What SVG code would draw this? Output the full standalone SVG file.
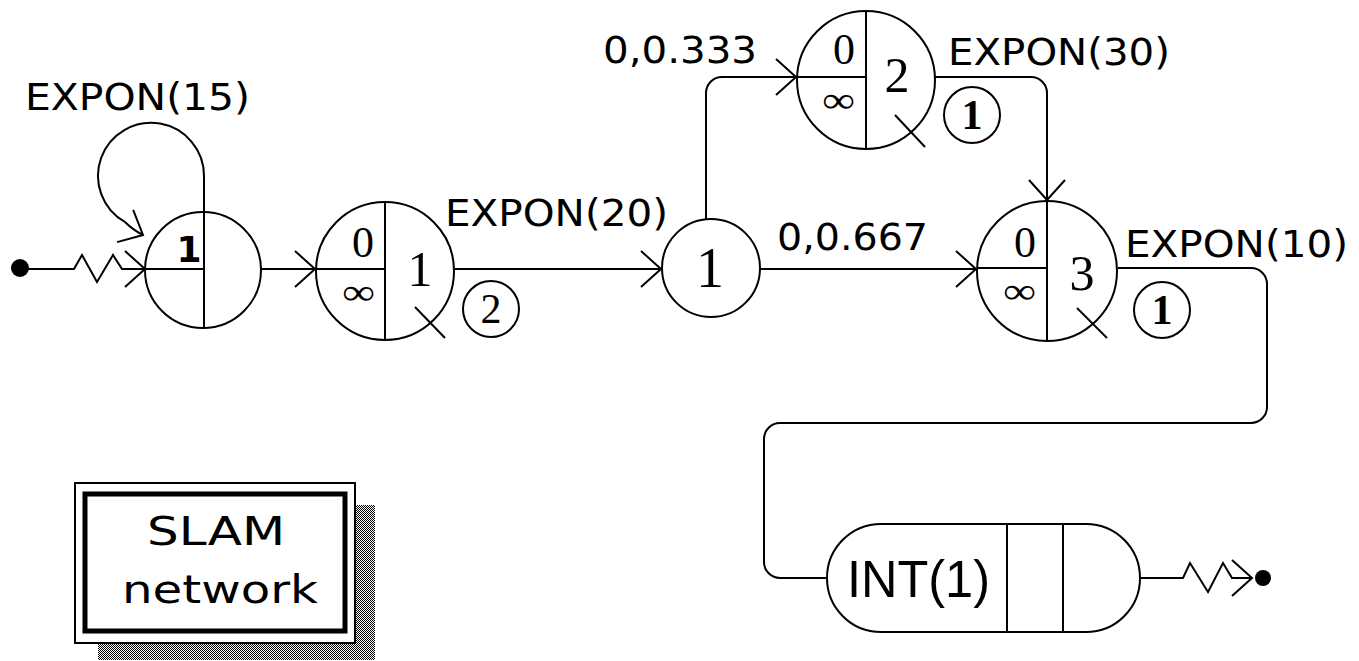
<svg xmlns="http://www.w3.org/2000/svg" width="1359" height="661" viewBox="0 0 1359 661">
<style>
.ln{fill:none;stroke:#000;stroke-width:2}
.nd{fill:#fff;stroke:#000;stroke-width:2}
.lbl{font-family:"DejaVu Sans",Verdana,sans-serif;font-size:37px;fill:#000}
.ser{font-family:"Liberation Serif","Times New Roman",serif;fill:#000;text-anchor:middle}
.inf{font-family:"Liberation Serif","Times New Roman",serif;font-size:36px;fill:#000}
.cnt{font-family:"Liberation Serif","Times New Roman",serif;font-size:42px;font-weight:bold;fill:#000;text-anchor:middle}
.reg{font-weight:normal}
</style>
<defs>
<marker id="arr" markerUnits="userSpaceOnUse" markerWidth="50" markerHeight="50" viewBox="-25 -25 50 50" refX="0" refY="0" orient="auto" overflow="visible">
<path d="M-20,-18 L0,0 L-20,18" fill="none" stroke="#000" stroke-width="2"/>
</marker>
<pattern id="dither" width="2" height="2" patternUnits="userSpaceOnUse">
<rect width="2" height="2" fill="#fff"/>
<rect x="0" y="0" width="1" height="1" fill="#000"/>
<rect x="1" y="1" width="1" height="1" fill="#000"/>
</pattern>
</defs>

<g id="connectors">
<path class="ln" d="M20,269 L74,269 L82,255 L97,282 L113,255 L122,269 L145,269" marker-end="url(#arr)"/>
<path class="ln" d="M204,212 L204,176 A53,53 0 1 0 125,222 Q133,230 143,235" marker-end="url(#arr)"/>
<path class="ln" d="M261,269 L315,269" marker-end="url(#arr)"/>
<path class="ln" d="M455,269 L661,269" marker-end="url(#arr)"/>
<path class="ln" d="M706,219 L706,93 A16,16 0 0 1 722,77 L796,77" marker-end="url(#arr)"/>
<path class="ln" d="M760,269 L976,269" marker-end="url(#arr)"/>
<path class="ln" d="M935,77 L1031,77 A16,16 0 0 1 1047,93 L1047,200" marker-end="url(#arr)"/>
<path class="ln" d="M1118,268 L1251,268 A16,16 0 0 1 1267,284 L1267,407 A16,16 0 0 1 1251,423 L780,423 A16,16 0 0 0 764,439 L764,562 A16,16 0 0 0 780,578 L827,578"/>
<path class="ln" d="M1140,578 L1183,578 L1190,563 L1208,592 L1223,563 L1232,578 L1252,578" marker-end="url(#arr)"/>
</g>

<g id="start">
<circle cx="20" cy="268" r="9" fill="#000"/>
</g>

<g id="create">
<circle class="nd" cx="203" cy="270" r="58"/>
<line class="ln" x1="204" y1="212" x2="204" y2="328"/>
<line class="ln" x1="145" y1="269" x2="204" y2="269"/>
<text x="189" y="262" font-family="DejaVu Sans,Verdana,sans-serif" font-size="36" font-weight="bold" text-anchor="middle">1</text>
<text class="lbl" x="25" y="110" textLength="225" lengthAdjust="spacingAndGlyphs">EXPON(15)</text>
</g>

<g id="queue1">
<circle class="nd" cx="385" cy="271" r="69"/>
<line class="ln" x1="385" y1="202" x2="385" y2="340"/>
<line class="ln" x1="316" y1="269" x2="385" y2="269"/>
<text class="ser" x="363" y="257" font-size="44">0</text>
<text class="inf" x="342" y="304" textLength="33" lengthAdjust="spacingAndGlyphs">∞</text>
<text class="ser" x="420" y="286" font-size="50">1</text>
<line class="ln" x1="415" y1="307" x2="445" y2="338"/>
<circle class="nd" cx="491" cy="309" r="28"/>
<text class="cnt reg" x="491" y="323">2</text>
<text class="lbl" x="445" y="226" textLength="223" lengthAdjust="spacingAndGlyphs">EXPON(20)</text>
</g>

<g id="goon">
<circle class="nd" cx="711" cy="268" r="49"/>
<text class="ser" x="710" y="287" font-size="56">1</text>
<text class="lbl" x="603" y="63" textLength="154" lengthAdjust="spacingAndGlyphs">0,0.333</text>
<text class="lbl" x="777" y="250" textLength="151" lengthAdjust="spacingAndGlyphs">0,0.667</text>
</g>

<g id="queue2">
<circle class="nd" cx="866" cy="80" r="69"/>
<line class="ln" x1="866" y1="11" x2="866" y2="149"/>
<line class="ln" x1="797" y1="77" x2="866" y2="77"/>
<text class="ser" x="844" y="64" font-size="44">0</text>
<text class="inf" x="822" y="112" textLength="33" lengthAdjust="spacingAndGlyphs">∞</text>
<text class="ser" x="897" y="92" font-size="50">2</text>
<line class="ln" x1="895" y1="115" x2="925" y2="147"/>
<circle class="nd" cx="972" cy="115" r="28"/>
<text class="cnt" x="972" y="129">1</text>
<text class="lbl" x="948" y="65" textLength="222" lengthAdjust="spacingAndGlyphs">EXPON(30)</text>
</g>

<g id="queue3">
<circle class="nd" cx="1047" cy="271" r="70"/>
<line class="ln" x1="1047" y1="201" x2="1047" y2="341"/>
<line class="ln" x1="977" y1="268" x2="1047" y2="268"/>
<text class="ser" x="1025" y="257" font-size="44">0</text>
<text class="inf" x="1003" y="303" textLength="33" lengthAdjust="spacingAndGlyphs">∞</text>
<text class="ser" x="1082" y="290" font-size="50">3</text>
<line class="ln" x1="1077" y1="308" x2="1107" y2="338"/>
<circle class="nd" cx="1162" cy="310" r="28"/>
<text class="cnt" x="1162" y="324">1</text>
<text class="lbl" x="1125" y="257" textLength="223" lengthAdjust="spacingAndGlyphs">EXPON(10)</text>
</g>

<g id="activity">
<path class="nd" d="M881,524 L1086,524 A54,54 0 0 1 1086,632 L881,632 A54,54 0 0 1 881,524 Z"/>
<line class="ln" x1="1007" y1="524" x2="1007" y2="632"/>
<line class="ln" x1="1063" y1="524" x2="1063" y2="632"/>
<text x="847" y="597" font-family="Liberation Sans,Arial,sans-serif" font-size="52" textLength="143" lengthAdjust="spacingAndGlyphs">INT(1)</text>
</g>

<g id="end">
<circle cx="1263" cy="578" r="8" fill="#000"/>
</g>

<g id="title">
<rect x="98" y="505" width="277" height="155" fill="url(#dither)"/>
<rect x="75" y="483" width="280" height="160" fill="#fff" stroke="#000" stroke-width="2"/>
<rect x="85" y="494" width="260" height="137" fill="none" stroke="#000" stroke-width="5"/>
<text x="147" y="545" font-family="DejaVu Sans,Verdana,sans-serif" font-size="39" textLength="138" lengthAdjust="spacingAndGlyphs">SLAM</text>
<text x="122" y="603" font-family="DejaVu Sans,Verdana,sans-serif" font-size="39" textLength="196" lengthAdjust="spacingAndGlyphs">network</text>
</g>
</svg>
